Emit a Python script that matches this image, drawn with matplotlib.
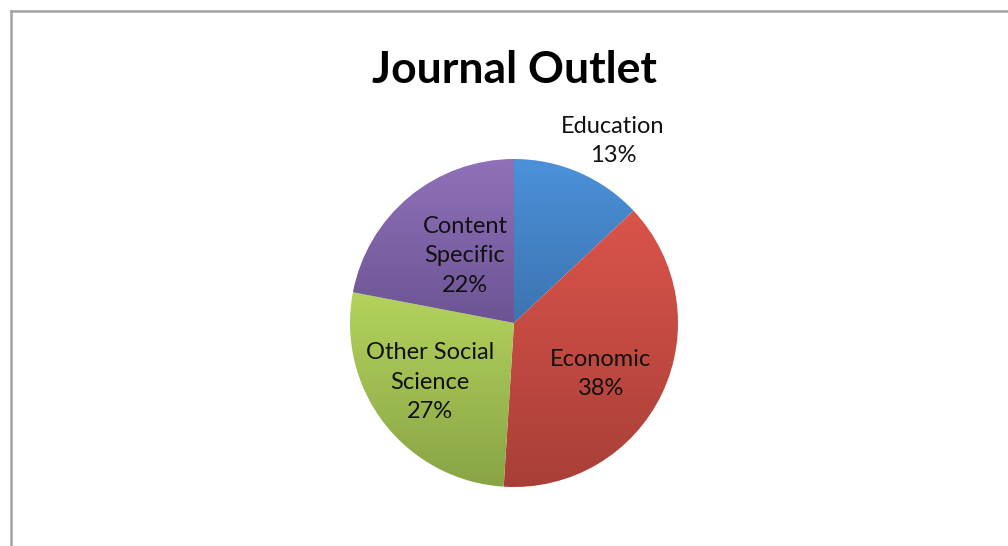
import matplotlib
matplotlib.use("Agg")
import matplotlib.pyplot as plt
import numpy as np
from matplotlib.colors import LinearSegmentedColormap
from matplotlib.lines import Line2D

# data
categories = ["Education", "Economic", "Other Social\nScience", "Content\nSpecific"]
shares = [13, 38, 27, 22]
# gradient colours per slice: (top, bottom)
slice_colors = [
    ("#4b91da", "#3c74b0"),
    ("#da544b", "#a83f37"),
    ("#b3d35c", "#88a446"),
    ("#9071b9", "#6c5494"),
]
# label centres in pie radius units
label_pos = [(0.604, 1.110), (0.530, -0.311), (-0.512, -0.360), (-0.299, 0.409)]

W, H = 1008, 546
fig = plt.figure(figsize=(W / 100, H / 100), dpi=100)
plt.rcParams["font.family"] = ["Lato", "DejaVu Sans"]

# chart frame (only top and left visible)
frame_kw = dict(color="#a3a3a3", linewidth=1.8, transform=fig.transFigure)
fig.add_artist(Line2D([11 / W, 1.0], [1 - 11 / H, 1 - 11 / H], **frame_kw))
fig.add_artist(Line2D([11 / W, 11 / W], [0.0, 1 - 11 / H], **frame_kw))

cx, cy, r = 514, 323, 164
ax = fig.add_axes([(cx - r) / W, (H - cy - r) / H, 2 * r / W, 2 * r / H])
ax.set_aspect("equal")
ax.axis("off")

wedges, _ = ax.pie(shares, startangle=90, counterclock=False, radius=1.0,
                   wedgeprops=dict(linewidth=0))

for w, (top, bot) in zip(wedges, slice_colors):
    verts = w.get_path().vertices
    x0, x1 = verts[:, 0].min(), verts[:, 0].max()
    y0, y1 = verts[:, 1].min(), verts[:, 1].max()
    cmap = LinearSegmentedColormap.from_list("g", [bot, top])
    grad = np.linspace(1, 0, 256).reshape(-1, 1)
    w.set_facecolor("none")
    im = ax.imshow(grad, cmap=cmap, vmin=0, vmax=1, aspect="auto",
                   extent=[x0, x1, y0, y1], interpolation="bicubic", zorder=1)
    im.set_clip_path(w)

ax.set_xlim(-1, 1)
ax.set_ylim(-1, 1)

for name, val, (lx, ly) in zip(categories, shares, label_pos):
    ax.text(lx, ly, f"{name}\n{val}%", ha="center", va="center",
            fontsize=17, color="#111111", linespacing=1.52, zorder=5)

fig.text(cx / W, 1 - 70 / H, "Journal Outlet", ha="center", va="center",
         fontsize=32, fontweight="bold", color="black")

fig.savefig("out.png", dpi=100, facecolor="white")
